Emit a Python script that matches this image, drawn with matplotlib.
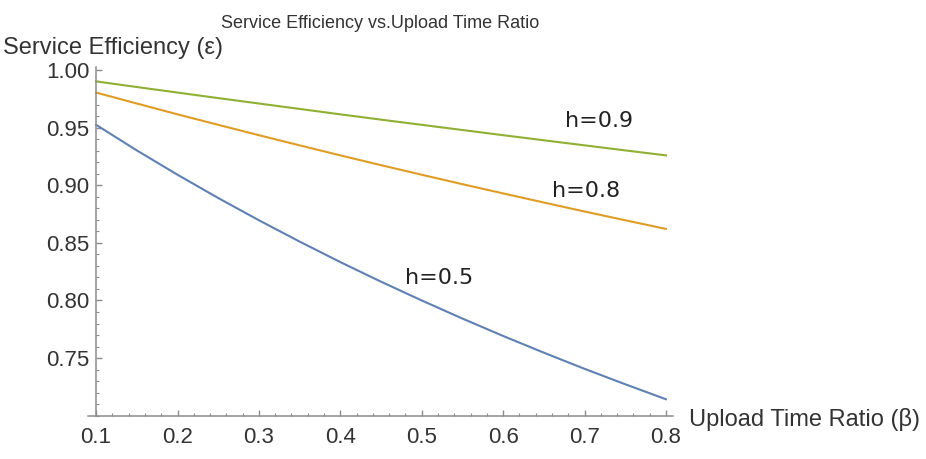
import matplotlib
matplotlib.use("Agg")
import matplotlib.pyplot as plt
from matplotlib.ticker import MultipleLocator, FormatStrFormatter

# values
beta = [0.10, 0.15, 0.20, 0.25, 0.30, 0.35, 0.40, 0.45,
        0.50, 0.55, 0.60, 0.65, 0.70, 0.75, 0.80]
eff_h05 = [0.9524, 0.9302, 0.9091, 0.8889, 0.8696, 0.8511, 0.8333, 0.8163,
           0.8000, 0.7843, 0.7692, 0.7547, 0.7407, 0.7273, 0.7143]
eff_h08 = [0.9804, 0.9709, 0.9615, 0.9524, 0.9434, 0.9346, 0.9259, 0.9174,
           0.9091, 0.9009, 0.8929, 0.8850, 0.8772, 0.8696, 0.8621]
eff_h09 = [0.9901, 0.9852, 0.9804, 0.9756, 0.9709, 0.9662, 0.9615, 0.9569,
           0.9524, 0.9479, 0.9434, 0.9390, 0.9346, 0.9302, 0.9259]
labels = ["h=0.5", "h=0.8", "h=0.9"]

blue = "#5E81B5"
orange = "#E19C24"
green = "#8FB032"
axis_col = "#8c8c8c"
text_col = "#333333"

plt.rcParams['font.family'] = ['Liberation Sans', 'DejaVu Sans']

fig = plt.figure(figsize=(9.26, 4.59), dpi=100)
ax = fig.add_axes([0.095, 0.0943, 0.6317, 0.7608])

ax.plot(beta, eff_h05, color=blue, lw=1.5)
ax.plot(beta, eff_h08, color=orange, lw=1.5)
ax.plot(beta, eff_h09, color=green, lw=1.5)

ax.set_xlim(0.09, 0.8086)
ax.set_ylim(0.70, 1.003)

for s in ["top", "right"]:
    ax.spines[s].set_visible(False)
ax.spines["left"].set_position(("data", 0.1))
for s in ["left", "bottom"]:
    ax.spines[s].set_color(axis_col)
    ax.spines[s].set_linewidth(1.1)

ax.xaxis.set_major_locator(MultipleLocator(0.1))
ax.xaxis.set_minor_locator(MultipleLocator(0.02))
ax.yaxis.set_minor_locator(MultipleLocator(0.01))
ax.xaxis.set_major_formatter(FormatStrFormatter("%.1f"))
ax.yaxis.set_major_formatter(FormatStrFormatter("%.2f"))
# 0.70 has no label in the reference
ax.set_yticks([0.75, 0.80, 0.85, 0.90, 0.95, 1.00])

ax.tick_params(which="major", direction="in", length=4, width=1, color=axis_col,
               labelcolor=text_col, labelsize=16)
ax.tick_params(which="minor", direction="in", length=2.2, width=0.8, color=axis_col)
ax.tick_params(axis="y", which="major", pad=5)
ax.tick_params(axis="x", which="major", pad=8)

# curve labels
lab_font = dict(family=["DejaVu Sans"], fontsize=16, color="#222222",
                ha="left", va="baseline")
ax.text(0.480, 0.814, labels[0], **lab_font)
ax.text(0.660, 0.890, labels[1], **lab_font)
ax.text(0.676, 0.9507, labels[2], **lab_font)

fig.text(0.410, 0.9397, "Service Efficiency vs.Upload Time Ratio", ha="center",
         va="baseline", fontsize=13, color=text_col)
fig.text(0.003, 0.8824, "Service Efficiency (ε)", ha="left", va="baseline",
         fontsize=17, color=text_col)
fig.text(0.744, 0.0719, "Upload Time Ratio (β)", ha="left", va="baseline",
         fontsize=17, color=text_col)

fig.savefig("out.png", dpi=100)
